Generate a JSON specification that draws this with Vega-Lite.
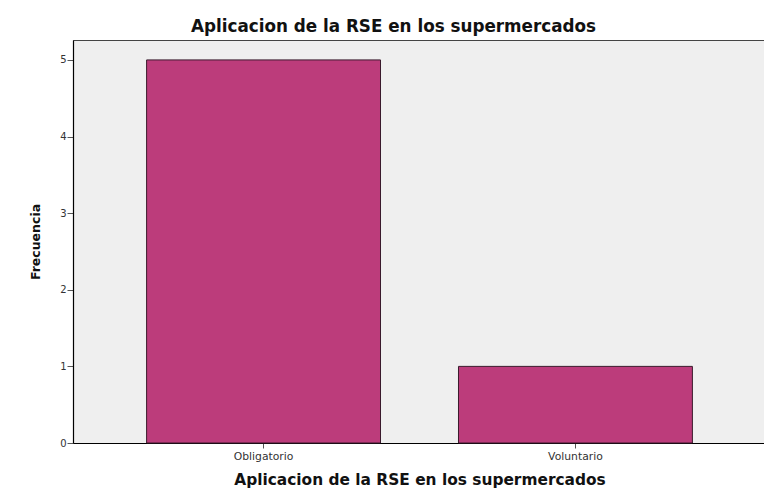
{
  "$schema": "https://vega.github.io/schema/vega-lite/v6.json",
  "autosize": {"type": "none"},
  "width": 693,
  "height": 403,
  "padding": {"left": 73, "top": 40, "right": 0, "bottom": 55},
  "background": "white",
  "title": {
    "text": "Aplicacion de la RSE en los supermercados",
    "font": "DejaVu Sans",
    "fontSize": 16.8,
    "fontWeight": "bold",
    "color": "#111111",
    "anchor": "middle",
    "dx": -26,
    "offset": 4
  },
  "data": {
    "values": [
      {"categoria": "Obligatorio", "frecuencia": 5},
      {"categoria": "Voluntario", "frecuencia": 1}
    ]
  },
  "mark": {"type": "bar", "fill": "#BC3C7B", "stroke": "#3A1A2C", "strokeWidth": 1},
  "encoding": {
    "x": {
      "field": "categoria",
      "type": "nominal",
      "scale": {"paddingInner": 0.25, "paddingOuter": 0.236},
      "axis": {
        "title": "Aplicacion de la RSE en los supermercados",
        "titleFont": "DejaVu Sans",
        "titleFontSize": 15.4,
        "titleFontWeight": "bold",
        "titleColor": "#111111",
        "titlePadding": 12,
        "labelAngle": 0,
        "labelFont": "DejaVu Sans",
        "labelFontSize": 10.8,
        "labelColor": "#333333",
        "labelPadding": 2,
        "tickSize": 5,
        "tickColor": "#555555",
        "domainColor": "#000000",
        "domainWidth": 1.2
      }
    },
    "y": {
      "field": "frecuencia",
      "type": "quantitative",
      "scale": {"domain": [0, 5.26], "nice": false},
      "axis": {
        "title": "Frecuencia",
        "titleFont": "DejaVu Sans",
        "titleFontSize": 12.5,
        "titleFontWeight": "bold",
        "titleColor": "#111111",
        "titlePadding": 17,
        "values": [0, 1, 2, 3, 4, 5],
        "format": "d",
        "labelFont": "DejaVu Sans",
        "labelFontSize": 10,
        "labelColor": "#333333",
        "labelPadding": 1,
        "tickSize": 6,
        "tickColor": "#555555",
        "domainColor": "#000000",
        "domainWidth": 1.2,
        "grid": false
      }
    }
  },
  "config": {
    "view": {"fill": "#EFEFEF", "stroke": "#444444", "strokeWidth": 1}
  }
}
